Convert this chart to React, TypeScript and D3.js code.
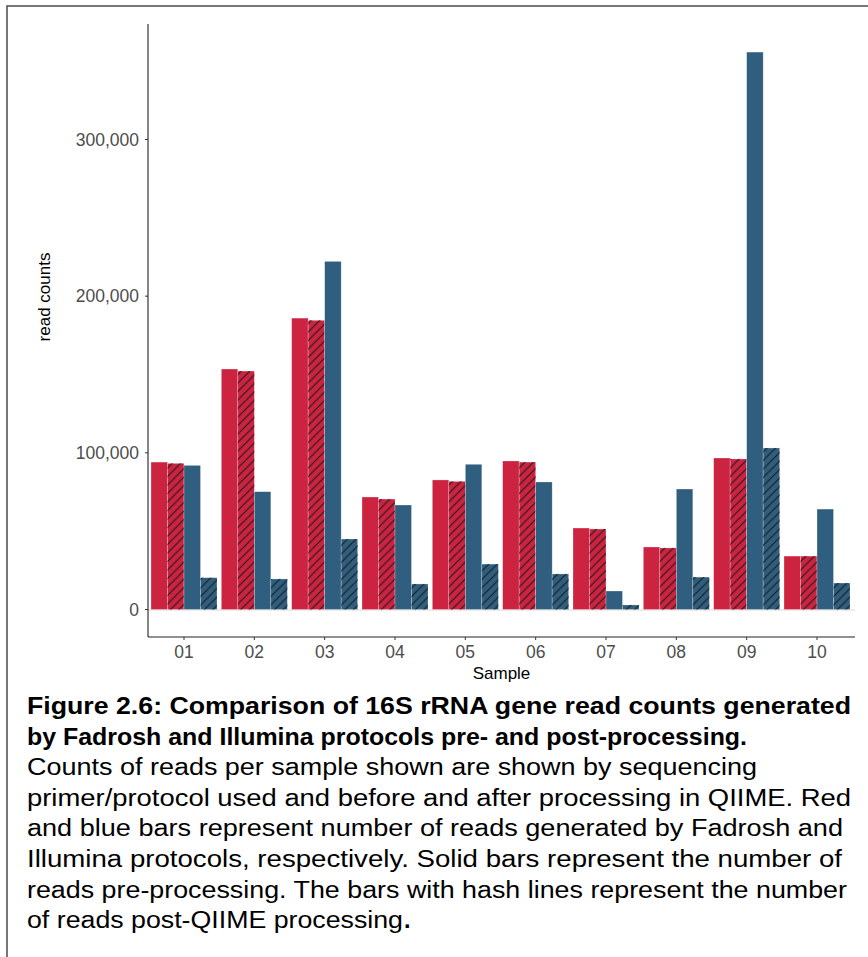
import React from "react";
import * as d3 from "d3";

const samples = ["01", "02", "03", "04", "05", "06", "07", "08", "09", "10"];
const fadroshPre = [94100, 153500, 186000, 71800, 82700, 94800, 52000, 39900, 96700, 34100];
const fadroshPost = [93300, 152200, 184600, 70500, 81800, 94100, 51400, 39300, 96100, 34100];
const illuminaPre = [92000, 75200, 222200, 66700, 92700, 81400, 11800, 76900, 355800, 64100];
const illuminaPost = [20300, 19500, 45000, 16300, 29000, 22700, 2900, 20700, 103100, 16900];
const seriesKeys = ["fadroshPre", "fadroshPost", "illuminaPre", "illuminaPost"];
const yTicks = [0, 100000, 200000, 300000];

const captionLines = [
  "Figure 2.6: Comparison of 16S rRNA gene read counts generated",
  "by Fadrosh and Illumina protocols pre- and post-processing.",
  "Counts of reads per sample shown are shown by sequencing",
  "primer/protocol used and before and after processing in QIIME. Red",
  "and blue bars represent number of reads generated by Fadrosh and",
  "Illumina protocols, respectively. Solid bars represent the number of",
  "reads pre-processing. The bars with hash lines represent the number",
  "of reads post-QIIME processing",
];
const captionBoldCount = 2;

const RED = "#CB2340";
const BLUE = "#2F5E7E";
const FONT = "'Liberation Sans', Arial, Helvetica, sans-serif";

export default function App() {
  const table = samples.map((s, i) => ({
    sample: s,
    fadroshPre: fadroshPre[i],
    fadroshPost: fadroshPost[i],
    illuminaPre: illuminaPre[i],
    illuminaPost: illuminaPost[i],
  }));

  const axisLeft = 148;
  const axisRight = 855;
  const axisTop = 24;
  const axisBottom = 637;

  const x0 = d3.scaleBand().domain(samples).range([151, 850]).paddingInner(0.0616).paddingOuter(0);
  const x1 = d3.scaleBand().domain(seriesKeys).range([0, x0.bandwidth()]).padding(0);
  const y = d3.scaleLinear().domain([0, 300000]).range([609.5, 139.5]);
  const fmt = d3.format(",");

  const fill = (k: string) => (k.startsWith("fadrosh") ? RED : BLUE);
  const hatched = (k: string) => k.endsWith("Post");

  const captionX = 27;
  const lineEnds = [851, 747, 757, 851, 843, 842, 847, 403];
  const firstBaseline = 714;
  const lineH = 30.6;
  const capSize = 23.5;

  return (
    <svg
      width={868}
      height={957}
      style={{ position: "absolute", left: 0, top: 0, background: "#fff" }}
      fontFamily={FONT}
    >
      <defs>
        <pattern id="hatch" patternUnits="userSpaceOnUse" width={8.5} height={8.5}>
          <path d="M-2,2 L2,-2 M0,8.5 L8.5,0 M6.5,10.5 L10.5,6.5" stroke="#1a1a1a" strokeWidth={1.1} />
        </pattern>
      </defs>
      <rect x={0} y={0} width={868} height={957} fill="#fff" />
      {/* figure border */}
      <rect x={7} y={6} width={900} height={1000} fill="none" stroke="#555" strokeWidth={1.6} />

      {/* zero baseline faint */}
      <line x1={axisLeft} x2={axisRight} y1={y(0) + 0.5} y2={y(0) + 0.5} stroke="#e6e6e6" strokeWidth={1.5} />

      {/* bars */}
      {table.map((d) => (
        <g key={d.sample} transform={`translate(${x0(d.sample)},0)`}>
          {seriesKeys.map((k) => {
            const v = (d as any)[k] as number;
            const bx = x1(k) as number;
            const by = y(v);
            const bh = y(0) - y(v);
            return (
              <g key={k}>
                <rect x={bx} y={by} width={x1.bandwidth()} height={bh} fill={fill(k)} stroke="#ffffff" strokeOpacity={0.45} strokeWidth={0.6} />
                {hatched(k) && (
                  <rect x={bx} y={by} width={x1.bandwidth()} height={bh} fill="url(#hatch)" />
                )}
              </g>
            );
          })}
        </g>
      ))}

      {/* axes */}
      <line x1={axisLeft} x2={axisLeft} y1={axisTop} y2={axisBottom} stroke="#222" strokeWidth={1.1} />
      <line x1={axisLeft} x2={axisRight} y1={axisBottom} y2={axisBottom} stroke="#222" strokeWidth={1.1} />

      {yTicks.map((t) => (
        <g key={t}>
          <line x1={axisLeft - 3} x2={axisLeft} y1={y(t)} y2={y(t)} stroke="#333" strokeWidth={1} />
          <text x={axisLeft - 9} y={y(t)} dy="0.36em" textAnchor="end" fontSize={17.5} fill="#4d4d4d">
            {fmt(t)}
          </text>
        </g>
      ))}

      {samples.map((s) => {
        const cx = (x0(s) as number) + x0.bandwidth() / 2;
        return (
          <g key={s}>
            <line x1={cx} x2={cx} y1={axisBottom} y2={axisBottom + 3} stroke="#333" strokeWidth={1} />
            <text x={cx} y={axisBottom + 15} dy="0.36em" textAnchor="middle" fontSize={17.5} fill="#4d4d4d">
              {s}
            </text>
          </g>
        );
      })}

      <text x={(axisLeft + axisRight) / 2} y={673} dy="0.36em" textAnchor="middle" fontSize={17} fill="#000">
        Sample
      </text>
      <text
        transform={`translate(44,297) rotate(-90)`}
        dy="0.36em"
        textAnchor="middle"
        fontSize={17}
        fill="#000"
      >
        read counts
      </text>

      {/* caption */}
      {captionLines.map((l, i) => (
        <text
          key={i}
          x={captionX}
          y={firstBaseline + i * lineH}
          fontSize={capSize}
          fontWeight={i < captionBoldCount ? "bold" : "normal"}
          fill="#000"
          textLength={lineEnds[i] - captionX}
          lengthAdjust="spacingAndGlyphs"
        >
          {l}
        </text>
      ))}
      <text
        x={lineEnds[lineEnds.length - 1] + 1}
        y={firstBaseline + (captionLines.length - 1) * lineH}
        fontSize={capSize}
        fontWeight="bold"
        fill="#000"
      >
        .
      </text>
    </svg>
  );
}
